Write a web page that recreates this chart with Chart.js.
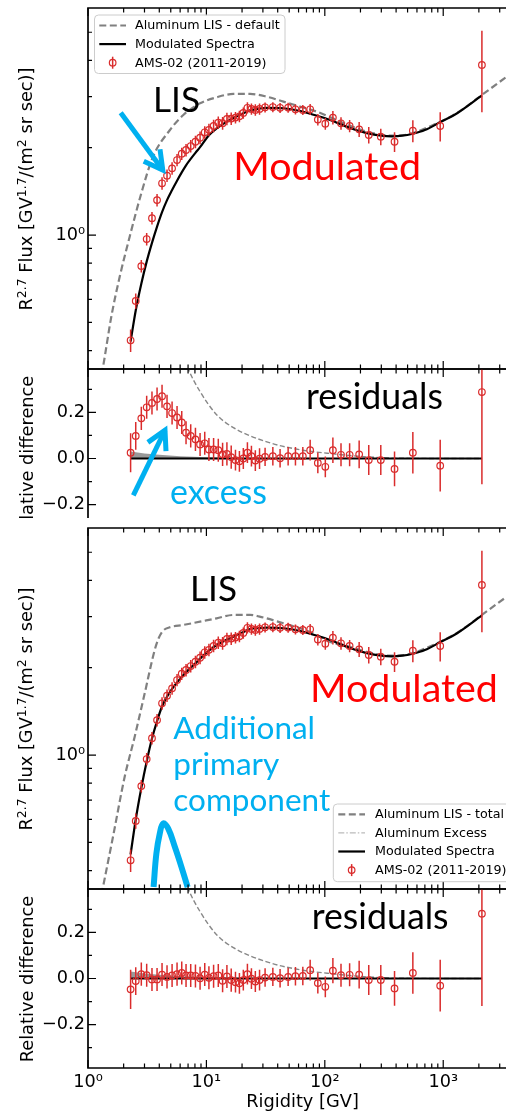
<!DOCTYPE html>
<html>
<head>
<meta charset="utf-8">
<title>Aluminum LIS - AMS-02</title>
<script src="https://cdn.jsdelivr.net/npm/chart.js@4.4.1/dist/chart.umd.min.js"></script>
<style>
html, body { margin: 0; padding: 0; background: #fff; }
body { position: relative; width: 506px; height: 1113px; overflow: hidden; font-family: "DejaVu Sans", sans-serif; }
.fig { position: absolute; left: 0; width: 506px; overflow: hidden; background: #fff; }
.fig canvas { position: absolute; left: 0; }
.ytitle { position: absolute; white-space: nowrap; font-size: 17.8px; line-height: 20px; color: #000;
          transform: translate(-50%, -50%) rotate(-90deg); }
.ytitle sup { font-size: 0.7em; vertical-align: 0; position: relative; top: -0.5em; }
.xtitle { position: absolute; white-space: nowrap; font-size: 17.8px; line-height: 20px; color: #000; transform: translateX(-50%); }
.note { position: absolute; white-space: nowrap; font-family: Lato, sans-serif; line-height: 1; z-index: 5; }
</style>
</head>
<body>
<div class="fig" id="fig1" style="top:0; height:560px; z-index:1">
  <canvas id="flux1" width="506" height="372" style="top:0"></canvas>
  <canvas id="res1" width="506" height="186" style="top:366px"></canvas>
  <div class="ytitle" style="left:27px; top:188.5px">R<sup>2.7</sup> Flux [GV<sup>1.7</sup>/(m<sup>2</sup> sr sec)]</div>
  <div class="ytitle" style="left:27px; top:458.5px">Relative difference</div>
</div>
<div class="fig" id="fig2" style="top:518px; height:595px; z-index:2">
  <canvas id="flux2" width="506" height="372" style="top:2px"></canvas>
  <canvas id="res2" width="506" height="227" style="top:368px"></canvas>
  <div class="ytitle" style="left:27px; top:190.5px">R<sup>2.7</sup> Flux [GV<sup>1.7</sup>/(m<sup>2</sup> sr sec)]</div>
  <div class="ytitle" style="left:27px; top:460.5px">Relative difference</div>
  <div class="xtitle" style="left:302.5px; top:573px">Rigidity [GV]</div>
</div>
<script>
// ---- data ----
// AMS-02 aluminum points (rigidity in GV, R^2.7 flux)
const rigidity = [2.29, 2.53, 2.82, 3.13, 3.47, 3.83, 4.22, 4.65, 5.13, 5.65, 6.19, 6.73, 7.37, 8.08, 8.84, 9.68,
  10.5, 11.5, 12.6, 13.7, 14.9, 16.2, 17.6, 19.0, 20.5, 22.2, 24.0, 25.9, 28.1, 31.3, 36.4, 41.9, 49.0, 56.5,
  65.2, 75.2, 87.3, 101, 117, 137, 162, 195, 235, 297, 388, 554, 943, 2122];
const amsFlux = [0.434, 0.593, 0.782, 0.969, 1.144, 1.320, 1.508, 1.602, 1.698, 1.814, 1.907, 1.964, 2.027, 2.097,
  2.165, 2.26, 2.305, 2.377, 2.44, 2.43, 2.515, 2.52, 2.54, 2.565, 2.635, 2.745, 2.72, 2.70, 2.72, 2.756, 2.762,
  2.745, 2.75, 2.713, 2.698, 2.713, 2.50, 2.42, 2.54, 2.428, 2.376, 2.314, 2.212, 2.183, 2.097, 2.288, 2.376, 3.857];
// residuals vs the default model (upper figure) and vs the total model (lower figure)
const residDefault = [0.025, 0.098, 0.174, 0.222, 0.241, 0.258, 0.27, 0.226, 0.197, 0.178, 0.156, 0.112, 0.098,
  0.083, 0.061, 0.066, 0.039, 0.039, 0.036, 0.018, 0.02, 0.006, -0.007, -0.012, 0.0, 0.025, 0.01, -0.009, -0.001,
  0.007, 0.01, 0.001, 0.01, 0.01, 0.01, 0.036, -0.019, -0.036, 0.036, 0.016, 0.016, 0.018, -0.007, -0.007, -0.045,
  0.025, -0.031, 0.288];
const residTotal = [-0.047, -0.011, 0.019, 0.014, -0.004, -0.004, 0.017, 0.007, 0.013, 0.019, 0.024, 0.013, 0.013,
  0.011, 0.001, 0.017, 0.003, 0.01, 0.013, -0.01, 0.009, -0.007, -0.016, -0.021, -0.007, 0.019, -0.001, -0.013,
  -0.007, 0.004, 0.007, 0.001, 0.007, 0.01, 0.011, 0.036, -0.02, -0.036, 0.034, 0.014, 0.016, 0.017, -0.007, -0.006,
  -0.043, 0.024, -0.031, 0.281];
const residErr = [0.085, 0.06, 0.05, 0.05, 0.05, 0.05, 0.05, 0.05, 0.05, 0.05, 0.05, 0.05, 0.05, 0.05, 0.05, 0.05,
  0.05, 0.05, 0.05, 0.05, 0.05, 0.05, 0.045, 0.045, 0.045, 0.045, 0.045, 0.045, 0.045, 0.04, 0.04, 0.04, 0.04, 0.04,
  0.04, 0.045, 0.045, 0.045, 0.055, 0.05, 0.05, 0.06, 0.065, 0.065, 0.075, 0.09, 0.112, 0.40];

// LIS and modulated curves
const lisDefaultR = [1.30, 1.339, 1.573, 1.852, 2.249, 2.819, 3.538, 4.92, 6.38, 8.83, 12.2, 16.9, 23.4, 32.3, 44.7,
  61.8, 85.6, 118, 163, 230, 357, 494, 830, 1308, 2122, 3390];
const lisDefaultF = [0.33, 0.351, 0.523, 0.718, 0.987, 1.393, 1.862, 2.302, 2.593, 2.845, 2.984, 3.064, 3.064, 2.999,
  2.883, 2.770, 2.662, 2.52, 2.38, 2.27, 2.20, 2.22, 2.40, 2.635, 3.04, 3.5];
const lisTotalR = [1.30, 1.339, 1.626, 2.041, 2.479, 3.012, 3.658, 3.95, 4.30, 4.9, 6.38, 12.2, 16.9, 23.4, 28.2,
  44.7, 61.8, 85.6, 110, 163, 230, 357, 494, 830, 1308, 2122, 3390];
const lisTotalF = [0.33, 0.351, 0.523, 0.842, 1.157, 1.632, 2.302, 2.526, 2.68, 2.756, 2.808, 2.960, 3.04, 3.04, 3.0,
  2.845, 2.735, 2.593, 2.459, 2.36, 2.265, 2.20, 2.22, 2.40, 2.635, 3.04, 3.5];
const modR = [2.29, 2.53, 2.82, 3.13, 3.47, 3.83, 4.22, 4.65, 5.13, 5.65, 6.19, 6.73, 7.37, 8.08, 8.84, 10.5, 12.2,
  14.9, 16.9, 20.5, 23.4, 28.1, 32.4, 44.8, 61.9, 85.7, 111, 163, 227, 300, 370, 450, 554, 700, 943, 1300, 2122];
const modDefaultF = [0.43, 0.55, 0.68, 0.81, 0.94, 1.07, 1.20, 1.32, 1.43, 1.54, 1.645, 1.74, 1.83, 1.92, 2.01, 2.21,
  2.33, 2.46, 2.53, 2.63, 2.69, 2.73, 2.745, 2.735, 2.677, 2.578, 2.493, 2.34, 2.245, 2.20, 2.19, 2.20, 2.235, 2.30,
  2.45, 2.625, 3.03];
const modTotalF = [0.455, 0.60, 0.77, 0.95, 1.14, 1.31, 1.47, 1.59, 1.69, 1.78, 1.86, 1.93, 2.00, 2.07, 2.15, 2.29,
  2.395, 2.50, 2.558, 2.655, 2.72, 2.738, 2.748, 2.735, 2.677, 2.578, 2.493, 2.34, 2.245, 2.20, 2.19, 2.20, 2.235,
  2.30, 2.45, 2.625, 3.03];
// aluminum excess component (falls below the plotted range)
const excessR = [2.3, 3.0, 3.8, 4.5, 5.5, 7.0, 10, 20];
const excessF = [0.04, 0.12, 0.22, 0.27, 0.24, 0.15, 0.05, 0.005];
// dashed LIS curve and grey band in the residual panels
const lisResidR = [6.0, 6.5, 7.05, 8.84, 12.2, 16.9, 32.4, 61.9, 118.5, 227, 437, 2122];
const lisResidV = [0.49, 0.44, 0.387, 0.29, 0.19, 0.134, 0.072, 0.038, 0.02, 0.007, 0.001, 0.0];
const bandR = [2.29, 3, 4, 6, 10, 20, 40];
const bandV = [0.03, 0.022, 0.016, 0.01, 0.005, 0.002, 0.0];
const zeroR = [2.29, 2122];
const zeroV = [0, 0];
// hand drawn cyan bump ("additional primary component")
const bumpR = [3.58, 3.78, 4.04, 4.31, 4.75, 5.41, 6.15, 6.94];
const bumpF = [0.351, 0.458, 0.537, 0.581, 0.559, 0.483, 0.412, 0.351];

// axes
const xMin = 1, xMax = 3390;
const fluxMin = 0.3456, fluxMax = 6.06;
const residMin = -0.388, residMax = 0.388;
const xMajorTicks = [1, 10, 100, 1000];
const xTickLabels = ['10⁰', '10¹', '10²', '10³'];
const xMinorTicks = [2, 3, 4, 5, 6, 7, 8, 9, 20, 30, 40, 50, 60, 70, 80, 90, 200, 300, 400, 500, 600, 700, 800, 900, 2000, 3000];
const fluxMajorTicks = [1];
const fluxTickLabels = ['10⁰'];
const fluxMinorTicks = [0.4, 0.5, 0.6, 0.7, 0.8, 0.9, 2, 3, 4, 5];
const residMajorTicks = [-0.2, 0, 0.2];
const residTickLabels = ['−0.2', '0.0', '0.2'];
const residMinorTicks = [-0.3, -0.1, 0.1, 0.3];

const red = 'rgb(218, 44, 44)';
const cyan = '#00b0f0';

Chart.defaults.font.family = "'DejaVu Sans'";
Chart.defaults.color = '#000';

function pts(xs, ys) { return xs.map((x, i) => ({ x: x, y: ys[i] })); }

// flux points with error bars (error)
const fluxPts = rigidity.map((r, i) => {
  const e = residErr[i] * amsFlux[i] / (1 + residTotal[i]);
  return { x: r, y: amsFlux[i], lo: amsFlux[i] - e, hi: amsFlux[i] + e };
});
function residPts(res) {
  return rigidity.map((r, i) => ({ x: r, y: res[i], lo: res[i] - residErr[i], hi: res[i] + residErr[i] }));
}

// ---- plugin: error bars, arrows, matplotlib-like frame and legend ----
const deco = {
  id: 'deco',
  beforeDatasetDraw(chart, args) {
    const ds = chart.data.datasets[args.index];
    if (!ds.errorBars) return;
    const { ctx, chartArea: a } = chart;
    const x = chart.scales.x, y = chart.scales.y;
    ctx.save();
    ctx.beginPath(); ctx.rect(a.left, a.top, a.width, a.height); ctx.clip();
    ctx.strokeStyle = ds.borderColor; ctx.lineWidth = 1.5;
    ctx.beginPath();
    ds.data.forEach(p => {
      const px = x.getPixelForValue(p.x);
      ctx.moveTo(px, y.getPixelForValue(p.lo));
      ctx.lineTo(px, y.getPixelForValue(p.hi));
    });
    ctx.stroke();
    ctx.restore();
  },
  afterDatasetsDraw(chart, args, opts) {
    const { ctx, chartArea: a } = chart;
    const x = chart.scales.x, y = chart.scales.y;
    // cyan arrows
    (opts.arrows || []).forEach(ar => {
      const x0 = x.getPixelForValue(ar.from[0]), y0 = y.getPixelForValue(ar.from[1]);
      const x1 = x.getPixelForValue(ar.to[0]), y1 = y.getPixelForValue(ar.to[1]);
      const ang = Math.atan2(y1 - y0, x1 - x0);
      ctx.save();
      ctx.strokeStyle = cyan; ctx.lineWidth = 5; ctx.lineJoin = 'miter';
      ctx.beginPath(); ctx.moveTo(x0, y0); ctx.lineTo(x1, y1); ctx.stroke();
      ctx.beginPath();
      ctx.moveTo(x1 - 21 * Math.cos(ang - 0.5), y1 - 21 * Math.sin(ang - 0.5));
      ctx.lineTo(x1, y1);
      ctx.lineTo(x1 - 21 * Math.cos(ang + 0.5), y1 - 21 * Math.sin(ang + 0.5));
      ctx.stroke();
      ctx.restore();
    });
    // ticks pointing inwards
    ctx.save();
    ctx.strokeStyle = '#000'; ctx.lineWidth = 1.2;
    ctx.beginPath();
    const xt = (v, len) => {
      const px = x.getPixelForValue(v);
      if (px < a.left || px > a.right) return;
      ctx.moveTo(px, a.top); ctx.lineTo(px, a.top + len);
      ctx.moveTo(px, a.bottom); ctx.lineTo(px, a.bottom - len);
    };
    const yt = (v, len) => {
      const py = y.getPixelForValue(v);
      if (py < a.top || py > a.bottom) return;
      ctx.moveTo(a.left, py); ctx.lineTo(a.left + len, py);
    };
    xMajorTicks.forEach(v => xt(v, 8));
    xMinorTicks.forEach(v => xt(v, 4.5));
    opts.yMajor.forEach(v => yt(v, 8));
    opts.yMinor.forEach(v => yt(v, 4));
    ctx.stroke();
    // spines
    ctx.lineWidth = 1.7;
    ctx.beginPath();
    ctx.moveTo(a.right + 2, a.top); ctx.lineTo(a.left, a.top); ctx.lineTo(a.left, a.bottom); ctx.lineTo(a.right + 2, a.bottom);
    ctx.stroke();
    ctx.restore();
  },
  afterDraw(chart, args, opts) {
    const lg = opts.legend;
    if (!lg) return;
    const ctx = chart.ctx;
    ctx.save();
    ctx.fillStyle = 'rgba(255,255,255,0.85)';
    ctx.strokeStyle = '#cccccc'; ctx.lineWidth = 1;
    ctx.beginPath(); ctx.roundRect(lg.x, lg.y, lg.w, lg.h, 4); ctx.fill(); ctx.stroke();
    const items = chart.data.datasets.filter(d => d.legend).sort((p, q) => p.legend - q.legend);
    items.forEach((d, i) => {
      const cy = lg.rowY + i * lg.step;
      if (d.kind === 'err') {
        const cx = (lg.x0 + lg.x1) / 2;
        ctx.strokeStyle = d.borderColor; ctx.lineWidth = 1.5;
        ctx.beginPath(); ctx.moveTo(cx, cy - 6); ctx.lineTo(cx, cy + 6); ctx.stroke();
        ctx.lineWidth = 1.2;
        ctx.beginPath(); ctx.arc(cx, cy, 3.3, 0, Math.PI * 2); ctx.stroke();
      } else {
        ctx.strokeStyle = d.borderColor; ctx.lineWidth = d.borderWidth;
        ctx.setLineDash(d.borderDash || []);
        ctx.beginPath(); ctx.moveTo(lg.x0, cy); ctx.lineTo(lg.x1, cy); ctx.stroke();
        ctx.setLineDash([]);
      }
      ctx.fillStyle = '#000';
      ctx.font = '12.7px "DejaVu Sans"';
      ctx.textBaseline = 'middle';
      ctx.fillText(d.label, lg.tx, cy + 0.5);
    });
    ctx.restore();
  }
};

function xScale(show) {
  const s = {
    type: 'logarithmic', min: xMin, max: xMax, display: show, bounds: 'data',
    grid: { display: false, drawTicks: false }, border: { display: false },
    ticks: { color: '#000', font: { size: 17.7 }, padding: 4, maxRotation: 0, autoSkip: false,
             callback: (v, i) => xTickLabels[i] },
    afterBuildTicks: sc => {
      sc.ticks = xMajorTicks.map(v => ({ value: v }));
      sc.min = xMin; sc.max = xMax;
    }
  };
  if (show) s.afterFit = sc => { sc.height = 45; sc.paddingLeft = 0; sc.paddingRight = 0; };
  return s;
}
function yScale(type, min, max, majors, labels) {
  return {
    type: type, min: min, max: max, bounds: 'data',
    grid: { display: false, drawTicks: false }, border: { display: false },
    ticks: { color: '#000', font: { size: 17.7 }, padding: 3, autoSkip: false, callback: (v, i) => labels[i] },
    afterBuildTicks: sc => {
      sc.ticks = majors.map(v => ({ value: v }));
      sc.min = min; sc.max = max;
    },
    afterFit: sc => { sc.width = 88; sc.paddingTop = 0; sc.paddingBottom = 0; }
  };
}
function makeChart(id, datasets, yOpts, showX, pad, decoOpts) {
  return new Chart(document.getElementById(id), {
    type: 'line',
    data: { datasets: datasets },
    options: {
      responsive: false, animation: false, events: [],
      layout: { padding: pad, autoPadding: false },
      plugins: { legend: { display: false }, tooltip: { enabled: false }, deco: decoOpts },
      scales: { x: xScale(showX), y: yOpts }
    },
    plugins: [deco]
  });
}

function amsSet(data) {
  return { label: 'AMS-02 (2011-2019)', data: data, showLine: false, pointRadius: 3.3, pointBorderWidth: 1.2,
           pointBorderColor: red, pointBackgroundColor: 'rgba(0,0,0,0)', borderColor: red, errorBars: true,
           kind: 'err', legend: 9, order: 0 };
}
function curve(label, xs, ys, color, width, dash, legend, order) {
  return { label: label, data: pts(xs, ys), borderColor: color, borderWidth: width, borderDash: dash,
           pointRadius: 0, cubicInterpolationMode: 'monotone', fill: false, legend: legend, order: order };
}
function residSets(res) {
  return [
    amsSet(residPts(res)),
    curve('', zeroR, zeroV, '#000', 1.8, [], 0, 1),
    curve('', lisResidR, lisResidV, '#888888', 1.4, [5, 2.5], 0, 2),
    { data: pts(bandR, bandV), fill: { value: 0 }, backgroundColor: 'rgba(110,110,110,0.7)',
      borderColor: 'rgba(0,0,0,0)', borderWidth: 0, pointRadius: 0, order: 3 }
  ];
}

// upper figure
makeChart('flux1', [
  amsSet(fluxPts),
  curve('Modulated Spectra', modR, modDefaultF, '#000', 2.2, [], 2, 1),
  curve('Aluminum LIS - default', lisDefaultR, lisDefaultF, '#808080', 2.2, [7, 3.5], 1, 2)
], yScale('logarithmic', fluxMin, fluxMax, fluxMajorTicks, fluxTickLabels), false,
  { top: 8, bottom: 3, left: 0, right: 0 },
  { yMajor: fluxMajorTicks, yMinor: fluxMinorTicks,
    arrows: [{ from: [1.889, 2.641], to: [4.28, 1.675] }],
    legend: { x: 94.5, y: 15, w: 190.5, h: 58.5, rowY: 25.5, step: 18.6, x0: 99.3, x1: 126, tx: 135 } });

makeChart('res1', residSets(residDefault),
  yScale('linear', residMin, residMax, residMajorTicks, residTickLabels), false,
  { top: 3, bottom: 4, left: 0, right: 0 },
  { yMajor: residMajorTicks, yMinor: residMinorTicks,
    arrows: [{ from: [2.413, -0.16], to: [4.47, 0.1225] }] });

// lower figure
const bumpSet = { data: pts(bumpR, bumpF), borderColor: cyan, borderWidth: 6, pointRadius: 0, tension: 0.4,
                  fill: false, order: 5, clip: 6 };
makeChart('flux2', [
  amsSet(fluxPts),
  curve('Modulated Spectra', modR, modTotalF, '#000', 2.2, [], 3, 1),
  curve('Aluminum Excess', excessR, excessF, '#bbbbbb', 1.2, [6, 2, 1.5, 2], 2, 3),
  curve('Aluminum LIS - total', lisTotalR, lisTotalF, '#808080', 2.2, [7, 3.5], 1, 2),
  bumpSet
], yScale('logarithmic', fluxMin, fluxMax, fluxMajorTicks, fluxTickLabels), false,
  { top: 8, bottom: 3, left: 0, right: 0 },
  { yMajor: fluxMajorTicks, yMinor: fluxMinorTicks,
    legend: { x: 333.3, y: 284, w: 200, h: 77.7, rowY: 294.3, step: 18.6, x0: 338.3, x1: 365, tx: 375 } });

makeChart('res2', residSets(residTotal),
  yScale('linear', residMin, residMax, residMajorTicks, residTickLabels), true,
  { top: 3, bottom: 0, left: 0, right: 0 },
  { yMajor: residMajorTicks, yMinor: residMinorTicks });

// ---- text annotations (page coordinates, font size fitted to the text width) ----
const notes = [
  { text: 'LIS', x: 153, base: 112, w: 47, color: '#000' },
  { text: 'Modulated', x: 233.3, base: 180, w: 188, color: '#ff0000' },
  { text: 'residuals', x: 306, base: 410, w: 137, color: '#000' },
  { text: 'excess', x: 170, base: 505, w: 97, color: cyan },
  { text: 'LIS', x: 190, base: 601.7, w: 47, color: '#000' },
  { text: 'Modulated', x: 310, base: 701.7, w: 188, color: '#ff0000' },
  { text: 'Additional', fit: 'component', x: 173.3, base: 740, w: 157, color: cyan },
  { text: 'primary', fit: 'component', x: 173.3, base: 776, w: 157, color: cyan },
  { text: 'component', x: 173.3, base: 812, w: 157, color: cyan },
  { text: 'residuals', x: 311.7, base: 930, w: 137, color: '#000' }
];
const meas = document.createElement('canvas').getContext('2d');
meas.font = '100px Lato';
notes.forEach(n => {
  const m = meas.measureText(n.fit || n.text);
  const fs = n.w / m.width * 100;
  const asc = (m.fontBoundingBoxAscent || 98.7) * fs / 100;
  const desc = (m.fontBoundingBoxDescent || 21.3) * fs / 100;
  const baseOff = (fs - asc - desc) / 2 + asc;
  const el = document.createElement('div');
  el.className = 'note';
  el.textContent = n.text;
  el.style.left = n.x + 'px';
  el.style.top = (n.base - baseOff) + 'px';
  el.style.fontSize = fs + 'px';
  el.style.color = n.color;
  document.body.appendChild(el);
});
</script>
</body>
</html>
